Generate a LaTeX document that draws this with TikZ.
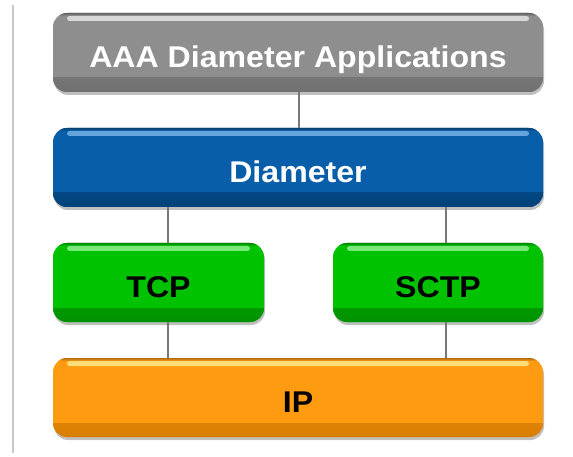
\documentclass[tikz,border=0pt]{standalone}
\usepackage{fontspec}
\newfontfamily\boxfont{Liberation Sans}[FakeStretch=1.07]
\usetikzlibrary{shadows}
\definecolor{gbase}{RGB}{142,142,142}
\definecolor{gdark}{RGB}{112,112,112}
\definecolor{glight}{RGB}{215,215,215}
\definecolor{bbase}{RGB}{8,94,168}
\definecolor{bdark}{RGB}{0,66,122}
\definecolor{blight}{RGB}{100,165,222}
\definecolor{grbase}{RGB}{0,194,0}
\definecolor{grdark}{RGB}{0,145,0}
\definecolor{grlight}{RGB}{120,232,120}
\definecolor{obase}{RGB}{255,155,16}
\definecolor{odark}{RGB}{215,125,0}
\definecolor{olight}{RGB}{255,222,120}
\definecolor{conn}{RGB}{120,120,120}
\definecolor{rule}{RGB}{200,200,200}
\tikzset{
  layer/.style n args={3}{rounded corners=14pt, inner sep=0pt, minimum height=79pt,
    text height=30pt, text depth=0pt, fill=#1,
    font=\boxfont\bfseries\fontsize{30}{36}\selectfont,
    drop shadow={shadow xshift=1pt, shadow yshift=-3pt, opacity=0.25, fill=black},
    path picture={
      \shade[sharp corners, top color=#1, bottom color=#2] ([yshift=14pt]path picture bounding box.south west) rectangle (path picture bounding box.south east);
      \shade[sharp corners, top color=#1!70!black, bottom color=#1] (path picture bounding box.north west) rectangle ([yshift=-3pt]path picture bounding box.north east);
      \fill[#3, rounded corners=2.5pt] ([xshift=14pt,yshift=-3pt]path picture bounding box.north west) rectangle ([xshift=-14pt,yshift=-8pt]path picture bounding box.north east);
    }},
  connector/.style={draw=conn, line width=2pt},
}
\begin{document}
\begin{tikzpicture}[x=1pt,y=-1pt]
\useasboundingbox (0,0) rectangle (573,457);
\draw[rule, line width=1.5pt] (13,5) -- (13,453);
\node[layer={gbase}{gdark}{glight}, minimum width=490pt, text=white] (aaa) at (298,52.5) {AAA Diameter Applications};
\node[layer={bbase}{bdark}{blight}, minimum width=490pt, text=white] (dia) at (298,167.5) {Diameter};
\node[layer={grbase}{grdark}{grlight}, minimum width=211pt, text=black] (tcp) at (158.5,282.5) {TCP};
\node[layer={grbase}{grdark}{grlight}, minimum width=210pt, text=black] (sctp) at (438,282.5) {SCTP};
\node[layer={obase}{odark}{olight}, minimum width=490pt, text=black] (ip) at (298,397.5) {IP};
\draw[connector] ([xshift=1pt]aaa.south) -- ([xshift=1pt]aaa.south |- dia.north);
\draw[connector] ([xshift=9.5pt]tcp.north |- dia.south) -- ([xshift=9.5pt]tcp.north);
\draw[connector] ([xshift=8pt]sctp.north |- dia.south) -- ([xshift=8pt]sctp.north);
\draw[connector] ([xshift=9.5pt]tcp.south) -- ([xshift=9.5pt]tcp.south |- ip.north);
\draw[connector] ([xshift=8pt]sctp.south) -- ([xshift=8pt]sctp.south |- ip.north);
\end{tikzpicture}
\end{document}
